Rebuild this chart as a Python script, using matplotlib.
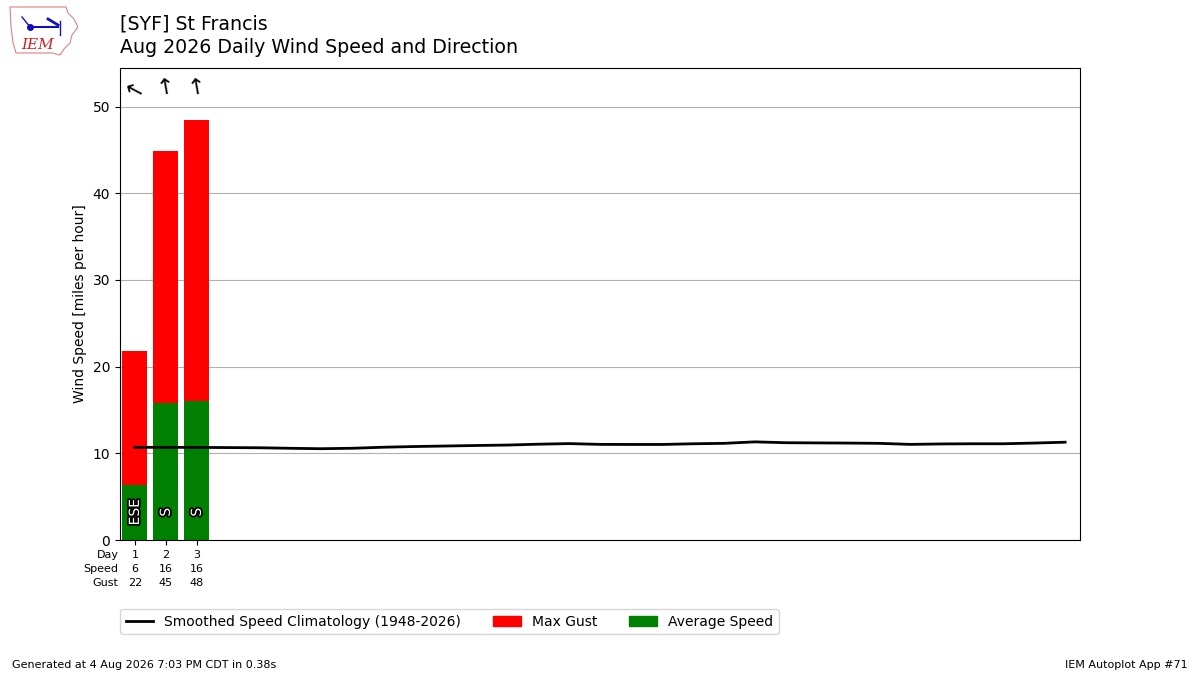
import matplotlib
matplotlib.use("Agg")
import matplotlib.pyplot as plt
import matplotlib.patheffects as pe
from matplotlib.patches import Patch, Polygon
from matplotlib.lines import Line2D

# ---- data ----
days = [1, 2, 3]
avg_speed = [6.3, 15.8, 16.05]
max_gust = [21.8, 44.9, 48.4]
speed_labels = ["6", "16", "16"]
gust_labels = ["22", "45", "48"]
drct_deg = [118, 170, 170]
drct_text = ["ESE", "S", "S"]

clim_days = list(range(1, 32))
clim_speed = [10.69, 10.69, 10.68, 10.66, 10.64, 10.58, 10.53, 10.58, 10.70, 10.78,
              10.84, 10.90, 10.95, 11.05, 11.12, 11.03, 11.02, 11.02, 11.10, 11.15,
              11.32, 11.22, 11.20, 11.18, 11.15, 11.03, 11.08, 11.10, 11.10, 11.18,
              11.28]

title = "[SYF] St Francis\nAug 2026 Daily Wind Speed and Direction"
footer_left = "Generated at 4 Aug 2026 7:03 PM CDT in 0.38s"
footer_right = "IEM Autoplot App #71"

# ---- figure ----
fig = plt.figure(figsize=(12, 6.75), dpi=100)
ax = fig.add_axes([0.1, 0.2, 0.8, 0.7])

ax.bar(days, max_gust, width=0.8, color="red", zorder=2)
ax.bar(days, avg_speed, width=0.8, color="green", zorder=2)
ax.plot(clim_days, clim_speed, color="k", lw=2, zorder=3)

for d, t in zip(days, drct_text):
    ax.text(d, 3.2, t, rotation=90, ha="center", va="center", fontsize=10,
            color="white", zorder=4,
            path_effects=[pe.withStroke(linewidth=2.5, foreground="k")])

for d, deg in zip(days, drct_deg):
    heading = (deg + 180) % 360
    ax.text(d, 52.2, "\u2191", rotation=-heading, rotation_mode="anchor",
            ha="center", va="center", fontsize=16, zorder=4)

ax.set_xlim(0.52, 31.48)
ax.set_ylim(0, 54.5)
ax.set_yticks([0, 10, 20, 30, 40, 50])
ax.set_xticks(days)
ax.set_xticklabels([f"{d}\n{s}\n{g}" for d, s, g in zip(days, speed_labels, gust_labels)],
                   fontsize=8, linespacing=1.5)
ax.annotate("Day\nSpeed\nGust", xy=(0, 0), xycoords="axes fraction",
            xytext=(-1, -7), textcoords="offset points", ha="right", va="top",
            fontsize=8, multialignment="right", linespacing=1.5)
ax.grid(axis="y", color="#b0b0b0", zorder=0)
ax.set_axisbelow(True)
ax.set_ylabel("Wind Speed [miles per hour]")

handles = [Line2D([], [], color="k", lw=2),
           Patch(color="red"), Patch(color="green")]
ax.legend(handles, ["Smoothed Speed Climatology (1948-2026)", "Max Gust", "Average Speed"],
          loc="upper left", bbox_to_anchor=(0.0, -0.146), borderaxespad=0, ncol=3,
          fontsize=10, columnspacing=2.3)

fig.text(0.1, 0.979, title, fontsize=13.7, va="top", ha="left", linespacing=1.32)
fig.text(0.01, 0.015, footer_left, fontsize=8, ha="left", va="center")
fig.text(0.99, 0.015, footer_right, fontsize=8, ha="right", va="center")

# logo approximation
lax = fig.add_axes([0.0067, 0.9156, 0.0583, 0.077])
lax.set_xlim(0, 70)
lax.set_ylim(0, 52)
lax.axis("off")
outline = [(2, 50), (58, 50), (60, 44), (66, 38), (70, 30), (64, 22), (62, 14),
           (56, 8), (52, 2), (44, 4), (8, 4), (5, 14), (3, 30), (2, 50)]
lax.add_patch(Polygon(outline, closed=True, fill=False, edgecolor="#e08080", lw=0.8))
lax.text(30, 12, "IEM", color="#cc2222", fontsize=11, style="italic",
         family="DejaVu Serif", ha="center", va="center")
lax.plot([22, 50], [30, 30], color="#1010c0", lw=1.5)
lax.plot([22], [30], "o", color="#1010c0", ms=4)
lax.plot([14, 22], [40, 30], color="#1010c0", lw=1)
lax.plot([40, 50], [38, 32], color="#1010c0", lw=2)
lax.plot([52, 52], [22, 36], color="#1010c0", lw=1)

fig.savefig("out.png", dpi=100)
